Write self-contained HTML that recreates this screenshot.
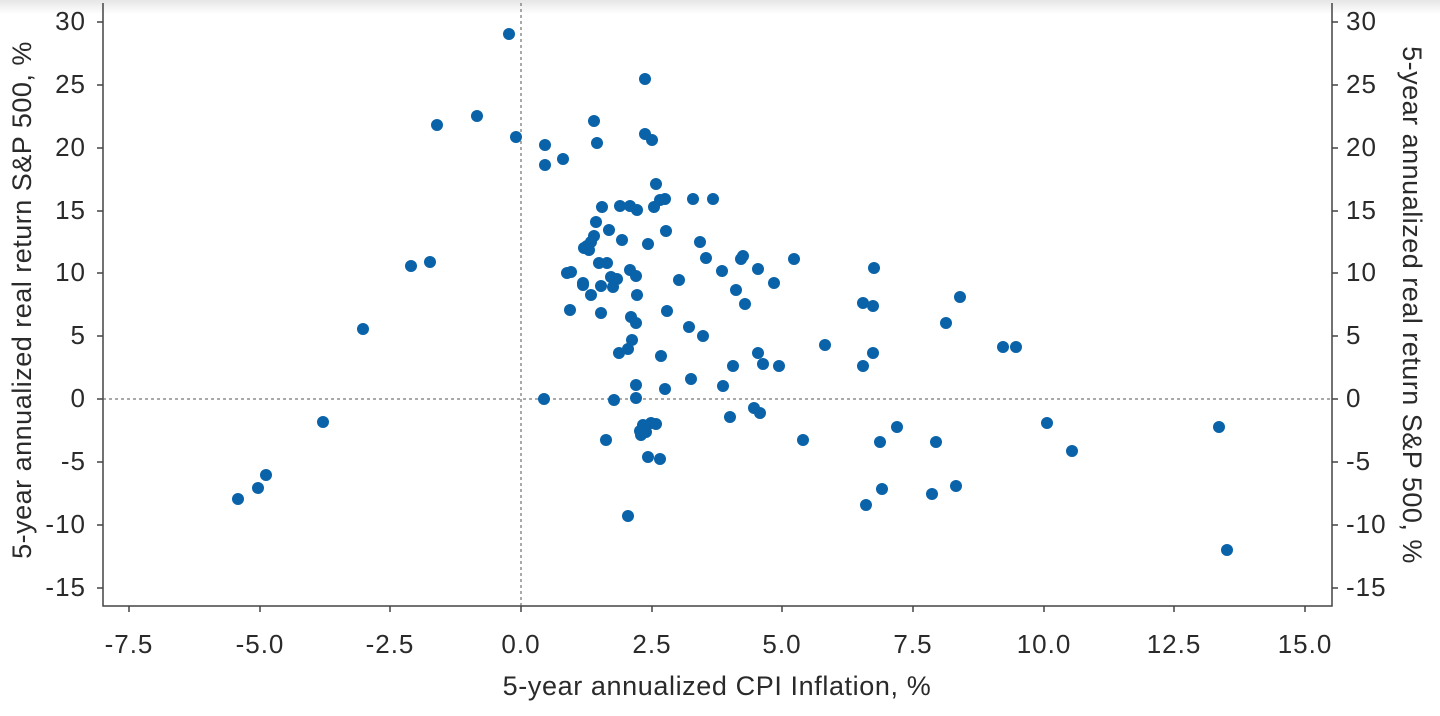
<!DOCTYPE html>
<html><head><meta charset="utf-8"><style>
html,body{margin:0;padding:0;background:#fff;}
svg{display:block;font-family:"Liberation Sans",sans-serif;}
</style></head><body>
<svg width="1440" height="716" viewBox="0 0 1440 716" xmlns="http://www.w3.org/2000/svg">
<defs><linearGradient id="g" x1="0" y1="0" x2="0" y2="1"><stop offset="0" stop-color="#e6e6e6"/><stop offset="1" stop-color="#fff"/></linearGradient></defs>
<rect width="1440" height="716" fill="#fff"/>
<rect width="1440" height="14" fill="url(#g)"/>
<g stroke="#444" stroke-width="1.5" fill="none">
<path d="M103 3V606H1332V3"/>
</g>
<g stroke="#555" stroke-width="1" stroke-dasharray="3,3">
<line x1="521" y1="3" x2="521" y2="606"/>
<line x1="103" y1="399" x2="1332" y2="399"/>
</g>
<g stroke="#444" stroke-width="1.5">
<path d="M97 22h6M97 85h6M97 148h6M97 211h6M97 273h6M97 336h6M97 399h6M97 462h6M97 525h6M97 588h6"/>
<path d="M1332 22h6M1332 85h6M1332 148h6M1332 211h6M1332 273h6M1332 336h6M1332 399h6M1332 462h6M1332 525h6M1332 588h6"/>
<path d="M129 606v6M260 606v6M390 606v6M521 606v6M652 606v6M782 606v6M913 606v6M1044 606v6M1174 606v6M1305 606v6"/>
</g>
<g fill="#2a2a2a" font-size="26" letter-spacing="1" text-anchor="end" dominant-baseline="middle">
<text x="86" y="23">30</text><text x="86" y="86">25</text><text x="86" y="149">20</text><text x="86" y="212">15</text><text x="86" y="274">10</text><text x="86" y="337">5</text><text x="86" y="400">0</text><text x="86" y="463">-5</text><text x="86" y="526">-10</text><text x="86" y="589">-15</text>
</g>
<g fill="#2a2a2a" font-size="26" letter-spacing="1" text-anchor="start" dominant-baseline="middle">
<text x="1346" y="23">30</text><text x="1346" y="86">25</text><text x="1346" y="149">20</text><text x="1346" y="212">15</text><text x="1346" y="274">10</text><text x="1346" y="337">5</text><text x="1346" y="400">0</text><text x="1346" y="463">-5</text><text x="1346" y="526">-10</text><text x="1346" y="589">-15</text>
</g>
<g fill="#2a2a2a" font-size="26" letter-spacing="1" text-anchor="middle">
<text x="129" y="653">-7.5</text><text x="260" y="653">-5.0</text><text x="390" y="653">-2.5</text><text x="521" y="653">0.0</text><text x="652" y="653">2.5</text><text x="782" y="653">5.0</text><text x="913" y="653">7.5</text><text x="1044" y="653">10.0</text><text x="1174" y="653">12.5</text><text x="1305" y="653">15.0</text>
</g>
<text x="717" y="695" font-size="27" letter-spacing="0.6" fill="#2a2a2a" text-anchor="middle">5-year annualized CPI Inflation, %</text>
<text transform="translate(31,300) rotate(-90)" font-size="27" letter-spacing="0.5" fill="#2a2a2a" text-anchor="middle">5-year annualized real return S&amp;P 500, %</text>
<text transform="translate(1403,305) rotate(90)" font-size="27" letter-spacing="0.5" fill="#2a2a2a" text-anchor="middle">5-year annualized real return S&amp;P 500, %</text>
<g fill="#0a63a8">
<circle cx="509" cy="34" r="6"/><circle cx="645" cy="79" r="6"/><circle cx="437" cy="125" r="6"/><circle cx="477" cy="116" r="6"/><circle cx="594" cy="121" r="6"/><circle cx="516" cy="137" r="6"/><circle cx="545" cy="145" r="6"/><circle cx="645" cy="134" r="6"/><circle cx="597" cy="143" r="6"/><circle cx="652" cy="140" r="6"/><circle cx="545" cy="165" r="6"/><circle cx="563" cy="159" r="6"/><circle cx="656" cy="184" r="6"/><circle cx="620" cy="206" r="6"/><circle cx="602" cy="207" r="6"/><circle cx="630" cy="206" r="6"/><circle cx="637" cy="210" r="6"/><circle cx="660" cy="200" r="6"/><circle cx="654" cy="207" r="6"/><circle cx="665" cy="199" r="6"/><circle cx="693" cy="199" r="6"/><circle cx="713" cy="199" r="6"/><circle cx="596" cy="222" r="6"/><circle cx="609" cy="230" r="6"/><circle cx="666" cy="231" r="6"/><circle cx="700" cy="242" r="6"/><circle cx="587" cy="246" r="6"/><circle cx="594" cy="236" r="6"/><circle cx="591" cy="242" r="6"/><circle cx="622" cy="240" r="6"/><circle cx="648" cy="244" r="6"/><circle cx="589" cy="250" r="6"/><circle cx="584" cy="248" r="6"/><circle cx="599" cy="263" r="6"/><circle cx="607" cy="263" r="6"/><circle cx="630" cy="270" r="6"/><circle cx="636" cy="276" r="6"/><circle cx="567" cy="273" r="6"/><circle cx="571" cy="272" r="6"/><circle cx="583" cy="283" r="6"/><circle cx="583" cy="285" r="6"/><circle cx="611" cy="277" r="6"/><circle cx="617" cy="279" r="6"/><circle cx="601" cy="286" r="6"/><circle cx="613" cy="287" r="6"/><circle cx="637" cy="295" r="6"/><circle cx="591" cy="295" r="6"/><circle cx="679" cy="280" r="6"/><circle cx="722" cy="271" r="6"/><circle cx="743" cy="256" r="6"/><circle cx="741" cy="259" r="6"/><circle cx="758" cy="269" r="6"/><circle cx="794" cy="259" r="6"/><circle cx="774" cy="283" r="6"/><circle cx="736" cy="290" r="6"/><circle cx="745" cy="304" r="6"/><circle cx="706" cy="258" r="6"/><circle cx="570" cy="310" r="6"/><circle cx="601" cy="313" r="6"/><circle cx="631" cy="317" r="6"/><circle cx="636" cy="323" r="6"/><circle cx="667" cy="311" r="6"/><circle cx="689" cy="327" r="6"/><circle cx="703" cy="336" r="6"/><circle cx="758" cy="353" r="6"/><circle cx="825" cy="345" r="6"/><circle cx="863" cy="303" r="6"/><circle cx="873" cy="306" r="6"/><circle cx="874" cy="268" r="6"/><circle cx="960" cy="297" r="6"/><circle cx="946" cy="323" r="6"/><circle cx="1003" cy="347" r="6"/><circle cx="1016" cy="347" r="6"/><circle cx="863" cy="366" r="6"/><circle cx="873" cy="353" r="6"/><circle cx="733" cy="366" r="6"/><circle cx="763" cy="364" r="6"/><circle cx="779" cy="366" r="6"/><circle cx="619" cy="353" r="6"/><circle cx="628" cy="349" r="6"/><circle cx="632" cy="340" r="6"/><circle cx="661" cy="356" r="6"/><circle cx="691" cy="379" r="6"/><circle cx="665" cy="389" r="6"/><circle cx="723" cy="386" r="6"/><circle cx="636" cy="385" r="6"/><circle cx="636" cy="398" r="6"/><circle cx="614" cy="400" r="6"/><circle cx="544" cy="399" r="6"/><circle cx="411" cy="266" r="6"/><circle cx="430" cy="262" r="6"/><circle cx="363" cy="329" r="6"/><circle cx="323" cy="422" r="6"/><circle cx="238" cy="499" r="6"/><circle cx="258" cy="488" r="6"/><circle cx="266" cy="475" r="6"/><circle cx="606" cy="440" r="6"/><circle cx="640" cy="431" r="6"/><circle cx="641" cy="435" r="6"/><circle cx="646" cy="432" r="6"/><circle cx="643" cy="425" r="6"/><circle cx="651" cy="423" r="6"/><circle cx="656" cy="424" r="6"/><circle cx="648" cy="457" r="6"/><circle cx="660" cy="459" r="6"/><circle cx="730" cy="417" r="6"/><circle cx="754" cy="408" r="6"/><circle cx="760" cy="413" r="6"/><circle cx="803" cy="440" r="6"/><circle cx="880" cy="442" r="6"/><circle cx="897" cy="427" r="6"/><circle cx="936" cy="442" r="6"/><circle cx="1047" cy="423" r="6"/><circle cx="1072" cy="451" r="6"/><circle cx="1219" cy="427" r="6"/><circle cx="866" cy="505" r="6"/><circle cx="882" cy="489" r="6"/><circle cx="932" cy="494" r="6"/><circle cx="956" cy="486" r="6"/><circle cx="628" cy="516" r="6"/><circle cx="1227" cy="550" r="6"/>
</g>
</svg>
</body></html>
